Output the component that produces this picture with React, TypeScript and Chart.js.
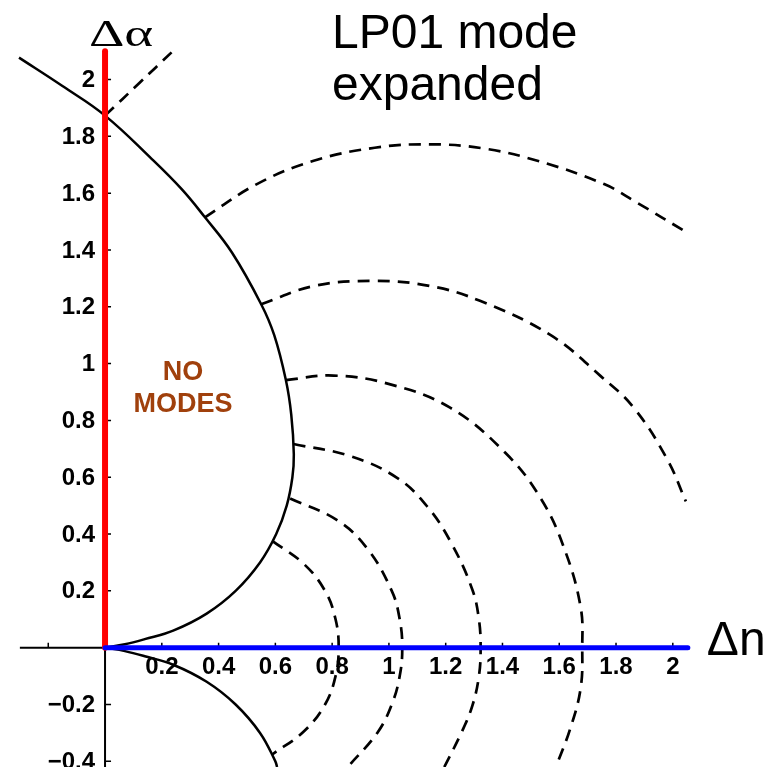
import React, { useEffect, useRef } from "react";
import { Chart, registerables } from "chart.js";

Chart.register(...registerables);

// ---- axis ranges / ticks ----
const X_MIN = -0.37;
const X_MAX = 2.36;
const Y_MIN = -0.42;
const Y_MAX = 2.28;
const X_AXIS_START = -0.3;
const Y_AXIS_END = 2.1;
const BLUE_END = 2.053;

const xTickValues = [-0.2, 0.2, 0.4, 0.6, 0.8, 1.0, 1.2, 1.4, 1.6, 1.8, 2.0];
const xTickLabels = ["", "0.2", "0.4", "0.6", "0.8", "1", "1.2", "1.4", "1.6", "1.8", "2"];
const yTickValues = [-0.4, -0.2, 0.2, 0.4, 0.6, 0.8, 1.0, 1.2, 1.4, 1.6, 1.8, 2.0];
const yTickLabels = ["\u22120.4", "\u22120.2", "0.2", "0.4", "0.6", "0.8", "1", "1.2", "1.4", "1.6", "1.8", "2"];

// ---- curves (Δn, Δα) ----
const cutoffUpper: [number, number][] = [
  [-0.303, 2.077], [-0.15, 1.977], [0, 1.873], [0.165, 1.72], [0.27, 1.614],
  [0.352, 1.515], [0.447, 1.391], [0.55, 1.209], [0.596, 1.1], [0.637, 0.942],
  [0.656, 0.82], [0.665, 0.68], [0.66, 0.6], [0.64, 0.5], [0.603, 0.4],
  [0.546, 0.3], [0.46, 0.2], [0.358, 0.12], [0.24, 0.06], [0.14, 0.03],
  [0.07, 0.012], [0, 0],
];
const cutoffLower: [number, number][] = [
  [0, 0], [0.07, -0.012], [0.14, -0.03], [0.24, -0.06], [0.358, -0.12],
  [0.46, -0.2], [0.546, -0.3], [0.6, -0.4], [0.606, -0.42],
];
const mode1: [number, number][] = [[0, 1.873], [0.12, 1.987], [0.241, 2.102]];
const mode2: [number, number][] = [
  [0.352, 1.515], [0.535, 1.632], [0.735, 1.714], [0.95, 1.76], [1.14, 1.772],
  [1.33, 1.758], [1.523, 1.714], [1.758, 1.632], [1.875, 1.566], [2.052, 1.46],
];
const mode3: [number, number][] = [
  [0.55, 1.209], [0.735, 1.273], [0.946, 1.291], [1.146, 1.273], [1.323, 1.22],
  [1.57, 1.1], [1.746, 0.956], [1.863, 0.844], [1.981, 0.662], [2.046, 0.515],
];
const mode4: [number, number][] = [
  [0.637, 0.942], [0.805, 0.958], [1.005, 0.927], [1.217, 0.844], [1.41, 0.686],
  [1.534, 0.527], [1.617, 0.351], [1.675, 0.145], [1.681, 0], [1.675, -0.145],
  [1.637, -0.29], [1.588, -0.42],
];
const mode5: [number, number][] = [
  [0.664, 0.717], [0.865, 0.674], [1.03, 0.597], [1.135, 0.497], [1.22, 0.368],
  [1.294, 0.204], [1.317, 0.1], [1.323, 0], [1.317, -0.1], [1.294, -0.204],
  [1.255, -0.3], [1.195, -0.42],
];
const mode6: [number, number][] = [
  [0.652, 0.525], [0.816, 0.45], [0.923, 0.35], [1.01, 0.2], [1.038, 0.1],
  [1.047, 0], [1.038, -0.1], [1.01, -0.2], [0.959, -0.3], [0.855, -0.42],
];
const mode7: [number, number][] = [
  [0.59, 0.375], [0.7, 0.295], [0.775, 0.2], [0.812, 0.1], [0.823, 0],
  [0.812, -0.1], [0.775, -0.2], [0.7, -0.295], [0.59, -0.375],
];
const redLine: [number, number][] = [[0, 0], [0, Y_AXIS_END]];
const blueLine: [number, number][] = [[0, 0], [BLUE_END, 0]];

const titleLines = ["LP01 mode", "expanded"];
const noteLines = ["NO", "MODES"];
const notePos: [number, number] = [0.275, 0.913];

const pts = (a: [number, number][]) => a.map(([x, y]) => ({ x, y }));

const axesPlugin = {
  id: "mmaAxes",
  beforeDatasetsDraw(chart: any) {
    const { ctx } = chart;
    const xs = chart.scales.x;
    const ys = chart.scales.y;
    const x0 = xs.getPixelForValue(0);
    const y0 = ys.getPixelForValue(0);
    ctx.save();
    ctx.strokeStyle = "#000";
    ctx.lineWidth = 2;
    ctx.beginPath();
    ctx.moveTo(xs.getPixelForValue(X_AXIS_START), y0);
    ctx.lineTo(xs.getPixelForValue(BLUE_END), y0);
    ctx.moveTo(x0, ys.getPixelForValue(Y_MIN));
    ctx.lineTo(x0, ys.getPixelForValue(Y_AXIS_END));
    ctx.stroke();
    ctx.lineWidth = 1.5;
    ctx.beginPath();
    xTickValues.forEach((v) => {
      const px = xs.getPixelForValue(v);
      ctx.moveTo(px, y0);
      ctx.lineTo(px, y0 - 5);
    });
    yTickValues.forEach((v) => {
      const py = ys.getPixelForValue(v);
      ctx.moveTo(x0, py);
      ctx.lineTo(x0 + 6, py);
    });
    ctx.stroke();
    ctx.fillStyle = "#000";
    ctx.font = "bold 24px 'Liberation Sans', Arial, sans-serif";
    ctx.textAlign = "center";
    ctx.textBaseline = "middle";
    xTickValues.forEach((v, i) => {
      if (!xTickLabels[i]) return;
      ctx.fillText(xTickLabels[i], xs.getPixelForValue(v), y0 + 20);
    });
    ctx.textAlign = "right";
    yTickValues.forEach((v, i) => {
      ctx.fillText(yTickLabels[i], x0 - 10, ys.getPixelForValue(v) + 1);
    });
    ctx.restore();
  },
  afterDraw(chart: any) {
    const { ctx } = chart;
    const xs = chart.scales.x;
    const ys = chart.scales.y;
    const x0 = xs.getPixelForValue(0);
    const y0 = ys.getPixelForValue(0);
    ctx.save();
    ctx.fillStyle = "#000";
    ctx.textBaseline = "alphabetic";
    ctx.textAlign = "left";
    ctx.font = "48px 'Liberation Sans', Arial, sans-serif";
    ctx.fillText(titleLines[0], 332, 48);
    ctx.fillText(titleLines[1], 332, 100);
    ctx.fillText("\u0394n", xs.getPixelForValue(BLUE_END) + 19, y0 + 7);
    // Δα, drawn wide like the original
    ctx.save();
    ctx.translate(x0 + 16, ys.getPixelForValue(Y_AXIS_END) - 5);
    ctx.scale(1.45, 1);
    ctx.font = "38px 'Liberation Serif', 'Times New Roman', serif";
    ctx.textAlign = "center";
    ctx.fillText("\u0394\u03b1", 0, 0);
    ctx.restore();
    ctx.fillStyle = "#a0400c";
    ctx.font = "bold 27px 'Liberation Sans', Arial, sans-serif";
    ctx.textAlign = "center";
    ctx.textBaseline = "middle";
    const nx = xs.getPixelForValue(notePos[0]);
    const ny = ys.getPixelForValue(notePos[1]);
    ctx.fillText(noteLines[0], nx, ny - 16);
    ctx.fillText(noteLines[1], nx, ny + 16);
    ctx.restore();
  },
};

export default function App() {
  const ref = useRef<HTMLCanvasElement | null>(null);
  useEffect(() => {
    if (!ref.current) return;
    const solid = { borderColor: "#000", borderWidth: 2.5, tension: 0.4 };
    const dashed = { borderColor: "#000", borderWidth: 2.7, borderDash: [12, 8], tension: 0.4 };
    const chart = new Chart(ref.current, {
      type: "scatter",
      data: {
        datasets: [
          { label: "blue", data: pts(blueLine), borderColor: "#0000ff", borderWidth: 5, borderCapStyle: "round", tension: 0 },
          { label: "red", data: pts(redLine), borderColor: "#ff0000", borderWidth: 6, borderCapStyle: "round", tension: 0 },
          { label: "cutoffUpper", data: pts(cutoffUpper), ...solid },
          { label: "cutoffLower", data: pts(cutoffLower), ...solid },
          { label: "m1", data: pts(mode1), ...dashed },
          { label: "m2", data: pts(mode2), ...dashed },
          { label: "m3", data: pts(mode3), ...dashed },
          { label: "m4", data: pts(mode4), ...dashed },
          { label: "m5", data: pts(mode5), ...dashed },
          { label: "m6", data: pts(mode6), ...dashed },
          { label: "m7", data: pts(mode7), ...dashed },
        ].map((d: any) => ({ ...d, showLine: true, pointRadius: 0, fill: false })),
      },
      options: {
        animation: false,
        responsive: false,
        devicePixelRatio: 1,
        events: [],
        layout: { padding: 0 },
        plugins: { legend: { display: false }, tooltip: { enabled: false }, title: { display: false } },
        scales: {
          x: { type: "linear", min: X_MIN, max: X_MAX, display: false },
          y: { type: "linear", min: Y_MIN, max: Y_MAX, display: false },
        },
      },
      plugins: [axesPlugin],
    } as any);
    return () => chart.destroy();
  }, []);
  return (
    <div style={{ position: "absolute", left: 0, top: 0, width: 775, height: 767, background: "#fff" }}>
      <canvas ref={ref} width={775} height={767} style={{ display: "block" }} />
    </div>
  );
}
